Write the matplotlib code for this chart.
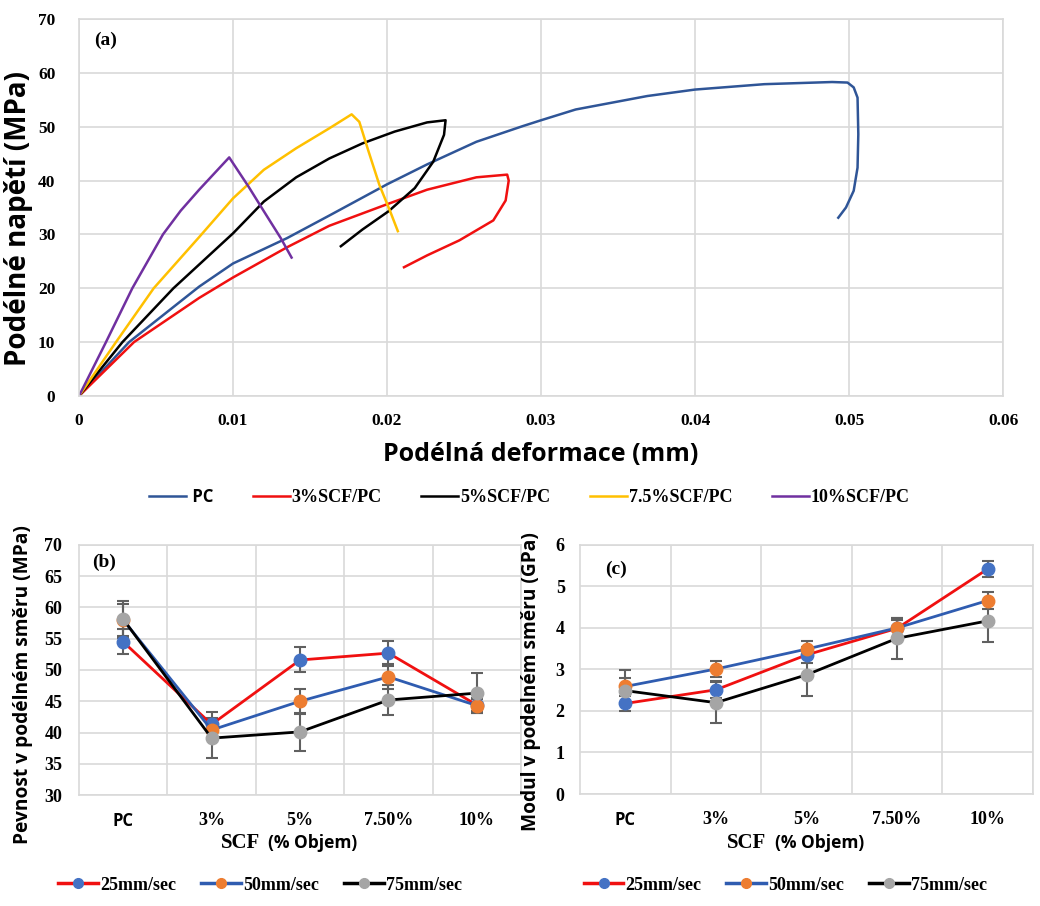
import numpy as np
import matplotlib
matplotlib.use("Agg")
from matplotlib import pyplot as plt
from matplotlib.lines import Line2D

# (a) stress-strain curves
pc_x = [0, 0.00325, 0.0078, 0.0100, 0.0135, 0.01625, 0.0200, 0.0226, 0.0258, 0.0288, 0.0300,
        0.03225, 0.0369, 0.0400, 0.0445, 0.0489, 0.0499, 0.0503, 0.05055, 0.0506, 0.05055,
        0.0503, 0.0498, 0.0493]
pc_y = [0, 10.0, 20.3, 24.6, 29.3, 33.5, 39.3, 43.0, 47.2, 50.1, 51.2,
        53.2, 55.7, 56.9, 57.9, 58.3, 58.2, 57.3, 55.4, 48.6, 42.4,
        38.1, 35.0, 33.1]
scf3_x = [0, 0.00357, 0.0078, 0.0100, 0.0135, 0.01625, 0.0200, 0.0226, 0.0258, 0.0278, 0.0279,
          0.0277, 0.0269, 0.0247, 0.0226, 0.0211]
scf3_y = [0, 10.0, 18.2, 22.0, 27.6, 31.6, 35.6, 38.3, 40.6, 41.1, 40.0,
          36.3, 32.6, 28.9, 26.1, 23.9]
scf5_x = [0, 0.00282, 0.00613, 0.0078, 0.0100, 0.0120, 0.0141, 0.01625, 0.0184, 0.0205, 0.0226,
          0.0238, 0.0237, 0.0230, 0.0218, 0.0201, 0.0184, 0.0170]
scf5_y = [0, 10.0, 20.0, 24.4, 30.2, 36.1, 40.6, 44.1, 46.9, 49.1, 50.8,
          51.2, 48.5, 43.5, 38.6, 34.3, 30.9, 27.8]
scf75_x = [0, 0.0024, 0.00485, 0.0078, 0.0100, 0.0120, 0.0141, 0.01625, 0.0177, 0.0182, 0.0188,
           0.0195, 0.0202, 0.0207]
scf75_y = [0, 10.0, 20.0, 29.5, 36.7, 42.0, 46.0, 49.7, 52.3, 50.9, 45.4,
           39.2, 34.3, 30.6]
scf10_x = [0, 0.00175, 0.00346, 0.00545, 0.0066, 0.0078, 0.00975, 0.0110, 0.0120, 0.0131, 0.0138]
scf10_y = [0, 10.0, 20.0, 30.0, 34.4, 38.3, 44.3, 38.9, 34.3, 29.3, 25.7]

# (b) strength and (c) modulus vs SCF content
cats = ["PC", "3%", "5%", "7.50%", "10%"]
b_25 = [54.5, 41.3, 51.6, 52.7, 44.4]
b_25_err = [2.0, 2.0, 2.0, 2.0, 1.0]
b_50 = [58.0, 40.4, 45.0, 48.9, 44.3]
b_50_err = [2.5, 1.5, 2.0, 2.0, 1.2]
b_75 = [58.1, 39.1, 40.1, 45.2, 46.3]
b_75_err = [3.0, 3.2, 3.0, 2.4, 3.2]
c_25 = [2.18, 2.51, 3.35, 3.99, 5.42]
c_25_err = [0.18, 0.2, 0.2, 0.2, 0.2]
c_50 = [2.59, 3.01, 3.49, 4.0, 4.66]
c_50_err = [0.4, 0.2, 0.2, 0.25, 0.2]
c_75 = [2.49, 2.2, 2.87, 3.75, 4.17]
c_75_err = [0.3, 0.5, 0.5, 0.5, 0.5]
speeds = ["25mm/sec", "50mm/sec", "75mm/sec"]

SERIF = "Liberation Serif"
SANS = "Open Sans"
GRID = "#d9d9d9"

fig = plt.figure(figsize=(10.4, 9.06), dpi=100)


def style_axes(ax, ypad, size=13):
    for s in ax.spines.values():
        s.set_color(GRID)
        s.set_linewidth(1.2)
    ax.grid(True, color=GRID, lw=1.2)
    ax.set_axisbelow(True)
    ax.tick_params(axis="y", length=0, pad=ypad)
    ax.tick_params(axis="x", length=0, pad=12)
    for t in ax.get_xticklabels() + ax.get_yticklabels():
        t.set_fontfamily(SERIF)
        t.set_fontweight("bold")
        t.set_fontsize(size)


# ---- (a)
ax = fig.add_axes([0.076, 0.563, 0.8885, 0.416])
curves = [(pc_x, pc_y, "#2f5597", " PC"),
          (scf3_x, scf3_y, "#f01010", "3%SCF/PC"),
          (scf5_x, scf5_y, "#000000", "5%SCF/PC"),
          (scf75_x, scf75_y, "#ffc000", "7.5%SCF/PC"),
          (scf10_x, scf10_y, "#7030a0", "10%SCF/PC")]
for x, y, c, lab in curves:
    ax.plot(x, y, color=c, lw=1.8, label=lab)
ax.set_xlim(0, 0.06)
ax.set_ylim(0, 70)
ax.set_xticks(np.arange(0, 0.061, 0.01))
ax.set_xticklabels(["0", "0.01", "0.02", "0.03", "0.04", "0.05", "0.06"])
ax.set_yticks(np.arange(0, 71, 10))
style_axes(ax, 17, 12.5)
ax.set_xlabel("Podélná deformace (mm)", family=SANS, weight="bold", fontsize=18, labelpad=10)
ax.set_ylabel("Podélné napětí (MPa)", family=SANS, weight="bold", fontsize=20)
ax.yaxis.set_label_coords(-0.05, 0.47)
ax.text(0.016, 0.944, "(a)", transform=ax.transAxes, family=SERIF, weight="bold",
        fontsize=14, va="center")
leg = fig.legend(loc="center", bbox_to_anchor=(0.509, 0.4514), ncol=5, frameon=False,
                 handlelength=2.05, columnspacing=2.2, handletextpad=0.1,
                 prop={"family": SERIF, "weight": "bold", "size": 13})
for t in leg.get_texts():
    if t.get_text().strip() == "PC":
        t.set_fontfamily(SANS)
        t.set_fontsize(12)


def panel(rect, vals, errs, ylim, yticks, ylabel, tag, tagpos, ypad, lab_xy):
    ax = fig.add_axes(rect)
    x = np.arange(len(cats))
    line_cols = ["#f01010", "#2f5cb0", "#000000"]
    mark_cols = ["#4472c4", "#ed7d31", "#a5a5a5"]
    handles = []
    for v, e, lc, mc in zip(vals, errs, line_cols, mark_cols):
        ax.errorbar(x, v, yerr=e, color=lc, lw=2, ecolor="#606060", elinewidth=1.5,
                    capsize=4, capthick=1.5, marker="o", markersize=9,
                    markerfacecolor=mc, markeredgecolor=mc)
        handles.append(Line2D([], [], color=lc, lw=2.5, marker="o", markersize=7,
                              markerfacecolor=mc, markeredgecolor=mc))
    ax.set_xlim(-0.5, 4.5)
    ax.set_ylim(*ylim)
    ax.set_yticks(yticks)
    ax.set_xticks(np.arange(0.5, 4.6, 1))
    ax.set_xticklabels([""] * 5)
    ax.set_xticks(x, minor=True)
    ax.set_xticklabels(cats, minor=True)
    style_axes(ax, ypad)
    ax.tick_params(which="minor", length=0, pad=12)
    for t in ax.get_xticklabels(minor=True):
        t.set_fontfamily(SERIF)
        t.set_fontweight("bold")
        t.set_fontsize(13)
        if t.get_text() == "PC":
            t.set_fontfamily(SANS)
            t.set_fontsize(12)
    ax.set_ylabel(ylabel, family=SANS, weight="bold", fontsize=13.8)
    ax.yaxis.set_label_coords(*lab_xy)
    ax.text(tagpos[0], tagpos[1], tag, transform=ax.transAxes, family=SERIF, weight="bold",
            fontsize=14, va="center")
    return ax, handles


ax_b, hb = panel([0.076, 0.1225, 0.425, 0.276], [b_25, b_50, b_75], [b_25_err, b_50_err, b_75_err],
                 (30, 70), np.arange(30, 71, 5), "Pevnost v podélném směru (MPa)", "(b)",
                 (0.03, 0.93), 12, (-0.104, 0.44))
ax_c, hc = panel([0.5577, 0.1236, 0.4356, 0.275], [c_25, c_50, c_75], [c_25_err, c_50_err, c_75_err],
                 (0, 6), np.arange(0, 7, 1), "Modul v podelném směru (GPa)", "(c)",
                 (0.055, 0.90), 11, (-0.086, 0.45))

# x labels with mixed fonts
for xs, xo in [(0.212, 0.258), (0.699, 0.745)]:
    fig.text(xs, 0.069, "SCF", family=SERIF, weight="bold", fontsize=15, va="center")
    fig.text(xo, 0.070, "(% Objem)", family=SANS, weight="bold", fontsize=12.5, va="center")

for h, cx in [(hb, 0.25), (hc, 0.755)]:
    fig.legend(h, speeds, loc="center", bbox_to_anchor=(cx, 0.023), ncol=3, frameon=False,
               handlelength=2.2, columnspacing=1.4, handletextpad=0.1,
               prop={"family": SERIF, "weight": "bold", "size": 13})

fig.savefig("out.png", dpi=100)
